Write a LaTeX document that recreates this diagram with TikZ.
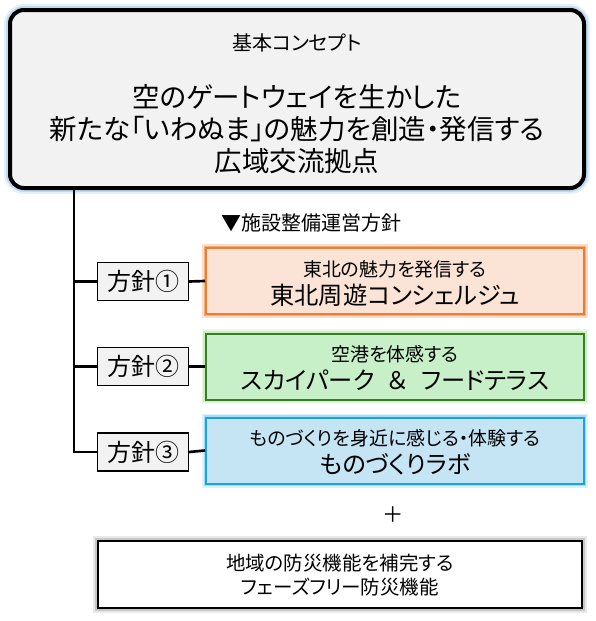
\documentclass[tikz,border=0pt]{standalone}
\usepackage{fontspec}
\setmainfont{Noto Sans CJK JP}[RawFeature={+palt}]
\definecolor{topfill}{HTML}{F2F2F2}
\definecolor{topglow}{HTML}{9DC3E6}
\definecolor{orfill}{HTML}{FBE3D6}
\definecolor{ordraw}{HTML}{ED7D31}
\definecolor{grfill}{HTML}{C8F0C8}
\definecolor{grdraw}{HTML}{3B7D23}
\definecolor{grglow}{HTML}{A9E5A0}
\definecolor{blfill}{HTML}{C5E5F5}
\definecolor{bldraw}{HTML}{1AA3E0}
\definecolor{shadowgray}{HTML}{A6A6A6}
\tikzset{
  glow/.style n args={3}{preaction={draw=#1,line width=#2,opacity=0.25},
                         preaction={draw=#1,line width=#3,opacity=0.5}},
  topbox/.style={draw=black,line width=3pt,fill=topfill,rounded corners=10.5pt,
                 minimum width=430.5pt,minimum height=133.5pt,inner sep=0pt,
                 glow={topglow}{9pt}{6pt}},
  pbox/.style={draw=black,line width=0.9pt,fill=topfill,minimum width=68.25pt,
               minimum height=28.5pt,inner sep=0pt,font=\fontsize{18}{20}\selectfont},
  cbox/.style={line width=1.5pt,minimum width=283.5pt,minimum height=49.5pt,inner sep=0pt},
  obox/.style={cbox,draw=ordraw,fill=orfill,glow={ordraw}{6pt}{3.5pt}},
  gbox/.style={cbox,draw=grdraw,fill=grfill,glow={grglow}{6.5pt}{4pt}},
  bbox/.style={cbox,draw=bldraw,fill=blfill,glow={bldraw!60}{6pt}{3.5pt}},
  small/.style={font=\fontsize{14.2}{16}\selectfont,inner sep=0pt},
  big/.style={font=\fontsize{18.2}{20}\selectfont,inner sep=0pt},
  conn/.style={draw=black,line width=2pt},
}
\begin{document}
\begin{tikzpicture}[x=0.75pt,y=-0.75pt]
\useasboundingbox (0,0) rectangle (596,621);
% top concept box
\node[topbox] (top) at (297,99) {};
\node[font=\fontsize{15}{17}\selectfont,inner sep=0pt] (concept) at (297,43) {基本コンセプト};
\node[font=\fontsize{20.6}{24}\selectfont,align=center,inner sep=0pt] (main) at (297,129)
  {空のゲートウェイを生かした\\新たな「いわぬま」の魅力を創造・発信する\\広域交流拠点};
% heading
\node[font=\fontsize{15}{17}\selectfont,anchor=west,inner sep=0pt] (head) at (221,223) {▼施設整備運営方針};
% policy boxes
\node[pbox] (p1) at (143,281.5) {方針①};
\node[pbox] (p2) at (143,366.5) {方針②};
\node[pbox] (p3) at (143,452) {方針③};
% coloured boxes
\node[obox] (c1) at (395,281) {};
\node[gbox] (c2) at (395,366.5) {};
\node[bbox] (c3) at (395,450.5) {};
\node[small] (c1a) at (395,269.5) {東北の魅力を発信する};
\node[big]   (c1b) at (395,295.5) {東北周遊コンシェルジュ};
\node[small] (c2a) at (395,354) {空港を体感する};
\node[big]   (c2b) at (395,380) {スカイパーク\hspace{0.55em}＆\hspace{0.55em}フードテラス};
\node[small] (c3a) at (395,438.5) {ものづくりを身近に感じる・体験する};
\node[big]   (c3b) at (395,464.5) {ものづくりラボ};
% connectors
\coordinate (t0) at (74,189);
\draw[conn] (t0) |- (p3.west);
\draw[conn] (p1.west) -- (p1.west -| t0);
\draw[conn] (p2.west) -- (p2.west -| t0);
\draw[conn] (p1.east) -- (c1.west);
\draw[conn] (p2.east) -- (c2.west);
\draw[conn] (p3.east) -- (c3.west);
% plus
\node[font=\fontsize{16}{18}\selectfont,inner sep=0pt] (plus) at (393,515) {＋};
% bottom box
\node[draw=black,line width=1.5pt,fill=white,minimum width=363pt,minimum height=50.25pt,inner sep=0pt,
      glow={shadowgray}{7pt}{4.5pt}] (bot) at (340,574.5) {};
\node[font=\fontsize{14.6}{17}\selectfont,inner sep=0pt] (b1) at (340,563) {地域の防災機能を補完する};
\node[font=\fontsize{14.6}{17}\selectfont,inner sep=0pt] (b2) at (340,587) {フェーズフリー防災機能};
\end{tikzpicture}
\end{document}
